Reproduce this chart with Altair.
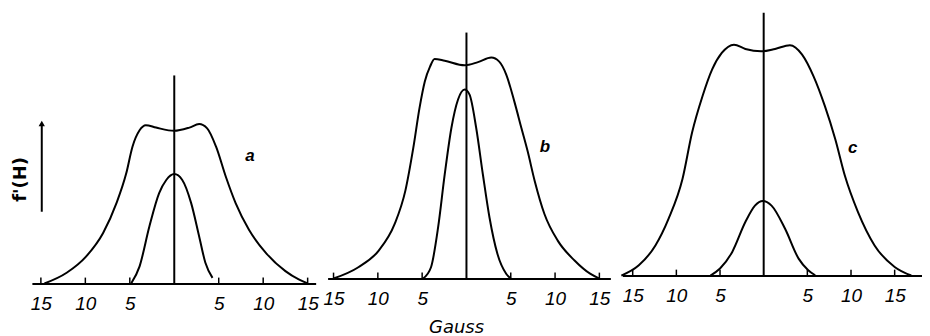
import altair as alt
import pandas as pd

# ---------------- data ----------------
# H in gauss, f'(H) in arbitrary units (same unit for all three panels)
a_broad_H = [-14.6, -12.1, -9.9, -8.0, -6.5, -5.4, -4.7, -3.9, -3.2, -2.05, 0.0, 1.7, 2.8, 3.7, 4.7, 5.8, 6.9, 8.4, 10.3, 12.5, 14.0, 15.0]
a_broad_f = [0.0, 4.0, 10.1, 18.8, 29.9, 41.0, 50.9, 57.0, 58.9, 58.0, 56.8, 58.0, 59.3, 57.7, 50.9, 39.7, 29.9, 20.0, 11.4, 4.6, 1.5, 0.0]
a_narrow_H = [-4.85, -3.9, -2.8, -1.7, -0.9, 0.0, 0.9, 1.9, 2.8, 3.5, 4.3]
a_narrow_f = [0.0, 6.4, 21.2, 33.6, 38.5, 40.7, 38.5, 29.9, 17.5, 7.7, 2.1]

b_broad_H = [-15.0, -12.2, -9.9, -8.1, -6.9, -6.0, -5.3, -4.7, -4.1, -3.6, -2.45, -0.2, 1.3, 2.8, 3.7, 4.5, 5.4, 6.2, 6.9, 7.7, 8.8, 10.3, 12.2, 14.0, 15.0]
b_broad_f = [0.0, 4.2, 10.4, 20.3, 32.6, 48.6, 63.4, 73.3, 78.9, 81.7, 81.0, 79.3, 80.5, 82.2, 80.7, 75.8, 65.9, 56.0, 47.4, 36.3, 24.0, 14.1, 6.7, 1.7, 0.0]
b_narrow_H = [-4.9, -4.0, -3.2, -2.45, -1.7, -0.95, -0.2, 0.35, 1.1, 1.85, 2.6, 3.5, 4.5, 5.0]
b_narrow_f = [0.0, 4.2, 19.0, 38.8, 56.0, 66.6, 70.3, 68.4, 56.0, 38.8, 22.7, 9.1, 1.7, 0.0]

c_broad_H = [-16.3, -14.3, -12.4, -10.9, -9.3, -8.2, -7.0, -5.9, -4.8, -3.4, -2.1, -0.3, 1.3, 3.0, 4.4, 5.7, 7.0, 8.2, 9.3, 10.8, 12.7, 15.0, 16.9]
c_broad_f = [0.0, 3.8, 11.2, 21.1, 35.9, 53.2, 66.8, 76.7, 82.8, 85.9, 84.3, 83.4, 84.3, 85.7, 82.2, 74.2, 63.1, 50.7, 37.1, 23.6, 11.2, 3.2, 0.0]
c_narrow_H = [-6.1, -5.0, -3.6, -2.1, -1.0, -0.1, 0.9, 2.45, 4.0, 5.1, 5.9]
c_narrow_f = [0.0, 2.6, 8.8, 19.9, 26.0, 27.7, 26.0, 17.4, 6.3, 2.0, 0.1]

center_top = [77.4, 91.5, 97.8]          # height of the vertical centre line
panel_names = ["a", "b", "c"]
name_H = [8.5, 8.85, 10.2]
name_f = [47.5, 48.8, 47.3]
tick_values = [-15, -10, -5, 5, 10, 15]
tick_len = 2.2
arrow_H = [-14.9]
arrow_f = [26.7]
arrow_f2 = [59.5]
y_title = "f'(H)"
x_title = "Gauss"

# ---------------- layout settings ----------------
UNIT = 2.7  # px per f unit
x_domains = [[-16.01, 15.90], [-15.67, 16.24], [-16.19, 18.13]]
widths = [285, 284, 301]
heights = [276, 271, 268]


def panel(i, bH, bf, nH, nf):
    xs = alt.Scale(domain=x_domains[i], nice=False, zero=False)
    ys = alt.Scale(domain=[0, heights[i] / UNIT], nice=False, zero=False)
    ax_kw = dict(values=tick_values, labelExpr="'' + abs(datum.value)", ticks=False, grid=False,
                 domainColor="black", domainWidth=2, labelColor="black",
                 labelFont="Liberation Sans", labelFontStyle="italic", labelFontSize=19,
                 labelPadding=11, labelFlush=False)
    if i == 1:
        xaxis = alt.Axis(title=x_title, titleFont="DejaVu Sans", titleFontStyle="italic",
                         titleFontWeight="normal", titleFontSize=18, titleColor="black",
                         titleX=129, titleY=54, titleAlign="center", titleBaseline="alphabetic", **ax_kw)
    else:
        xaxis = alt.Axis(title=None, **ax_kw)
    if i == 0:
        yaxis = alt.Axis(title=y_title, domain=False, ticks=False, labels=False, grid=False,
                         titleAngle=270, titleX=-11, titleY=171, titleAlign="center",
                         titleBaseline="middle", titleFont="DejaVu Sans", titleFontWeight="bold",
                         titleFontSize=18, titleColor="black")
    else:
        yaxis = None
    x = alt.X("H:Q", scale=xs, axis=xaxis)
    y = alt.Y("f:Q", scale=ys, axis=yaxis)

    curves = pd.concat([
        pd.DataFrame({"H": bH, "f": bf, "curve": "broad", "i": range(len(bH))}),
        pd.DataFrame({"H": nH, "f": nf, "curve": "narrow", "i": range(len(nH))}),
    ])
    lines = alt.Chart(curves).mark_line(color="black", strokeWidth=2, interpolate="monotone").encode(
        x=x, y=y, detail="curve:N", order="i:Q")

    ticks = pd.DataFrame({"H": tick_values, "f": [0] * len(tick_values), "f2": [tick_len] * len(tick_values)})
    tick_layer = alt.Chart(ticks).mark_rule(color="black", strokeWidth=1.5).encode(x=x, y=y, y2="f2:Q")

    centre = pd.DataFrame({"H": [0.0], "f": [0.0], "f2": [center_top[i]]})
    centre_layer = alt.Chart(centre).mark_rule(color="black", strokeWidth=2).encode(x=x, y=y, y2="f2:Q")

    lab = pd.DataFrame({"H": [name_H[i]], "f": [name_f[i]], "t": [panel_names[i]]})
    lab_layer = alt.Chart(lab).mark_text(font="Liberation Sans", fontStyle="italic", fontWeight="bold",
                                         fontSize=17, color="black").encode(x=x, y=y, text="t:N")

    layers = [lines, tick_layer, centre_layer, lab_layer]
    if i == 0:
        arr = pd.DataFrame({"H": arrow_H, "f": arrow_f, "f2": arrow_f2})
        arr_line = alt.Chart(arr).mark_rule(color="black", strokeWidth=2).encode(x=x, y=y, y2="f2:Q")
        head = pd.DataFrame({"H": arrow_H, "f": arrow_f2})
        arr_head = alt.Chart(head).mark_point(shape="triangle-up", filled=True, color="black",
                                              size=40, opacity=1).encode(x=x, y=y)
        layers += [arr_line, arr_head]
    return alt.layer(*layers).properties(width=widths[i], height=heights[i])


pa = panel(0, a_broad_H, a_broad_f, a_narrow_H, a_narrow_f)
pb = panel(1, b_broad_H, b_broad_f, b_narrow_H, b_narrow_f)
pc = panel(2, c_broad_H, c_broad_f, c_narrow_H, c_narrow_f)

chart = alt.hconcat(pa, pb, pc, spacing=12, bounds="flush").properties(
    padding={"left": 4, "top": 0, "right": 0, "bottom": 0},
    background="white",
).configure_view(strokeWidth=0)

chart.save("out.html", embed_options={"renderer": "svg", "actions": False})
